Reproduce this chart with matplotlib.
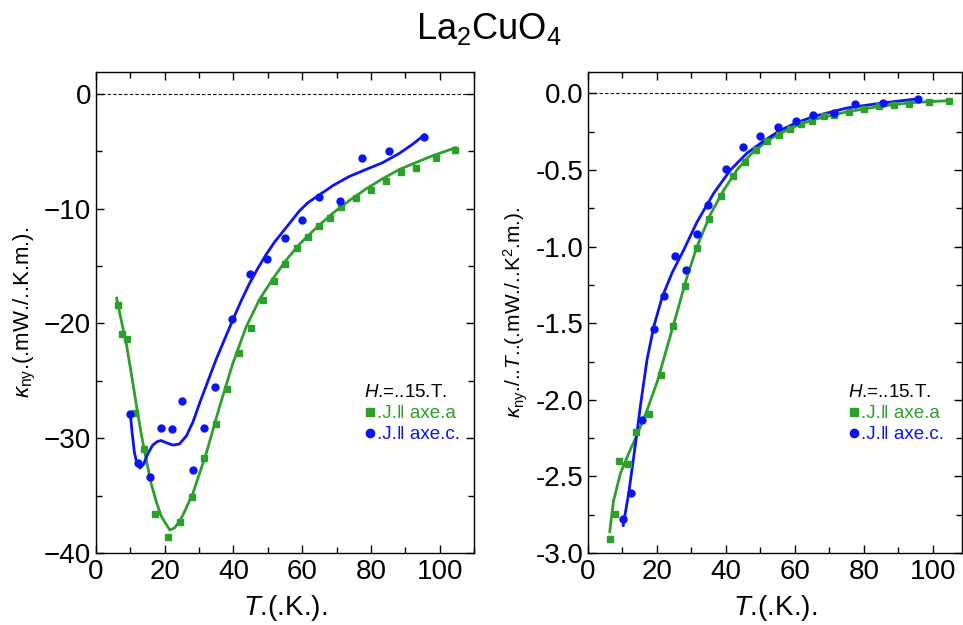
import numpy as np
import matplotlib
matplotlib.use("Agg")
import matplotlib.pyplot as plt
from matplotlib.lines import Line2D
from matplotlib.ticker import MultipleLocator

plt.rcParams['font.family'] = ['Liberation Sans', 'DejaVu Sans']
plt.rcParams['mathtext.fontset'] = 'custom'
plt.rcParams['mathtext.rm'] = 'Liberation Sans'
plt.rcParams['mathtext.it'] = 'Liberation Sans:italic'

GREEN = '#2ca02c'
BLUE = '#0a14f5'

# --- left panel: kappa_xy (mW/K m) ---
ta_pts = [6.3, 7.5, 8.9, 11.4, 13.9, 17.3, 21.0, 24.4, 27.9, 31.4, 34.8, 38.2, 41.7, 45.2,
          48.5, 51.9, 55.1, 58.5, 61.7, 64.9, 68.1, 71.3, 75.6, 79.9, 84.3, 88.7, 93.0, 98.8, 104.6]
ka_pts = [-18.4, -20.9, -21.4, -27.8, -30.9, -36.6, -38.6, -37.3, -35.1, -31.7, -28.8, -25.7,
          -22.6, -20.4, -18.0, -16.3, -14.8, -13.4, -12.5, -11.5, -10.8, -9.9, -9.1, -8.4,
          -7.6, -6.8, -6.5, -5.6, -4.9]
tc_pts = [10.0, 12.2, 15.6, 18.9, 22.1, 25.1, 28.3, 31.5, 34.5, 39.7, 44.8, 49.8, 54.9, 59.9,
          65.0, 71.0, 77.3, 85.3, 95.5]
kc_pts = [-27.9, -32.2, -33.4, -29.1, -29.2, -26.8, -32.8, -29.1, -25.5, -19.6, -15.7, -14.4,
          -12.6, -11.0, -9.0, -9.3, -5.6, -5.0, -3.8]

# fitted curves
ta_fit = [6.0, 7.4, 8.9, 10.4, 11.8, 13.2, 14.7, 16.1, 17.6, 19.0, 20.0, 21.5, 22.9, 24.1, 25.3,
          28.2, 32.1, 36.0, 39.8, 43.7, 47.6, 51.5, 55.3, 59.2, 64.0, 68.9, 73.7, 78.5,
          83.4, 88.2, 93.0, 97.9, 104.6]
ka_fit = [-17.8, -19.8, -21.9, -24.6, -27.2, -29.7, -32.0, -34.0, -35.6, -36.8, -37.3, -38.0,
          -37.8, -37.3, -36.7, -34.8, -31.3, -27.2, -23.5, -20.3, -17.9, -16.1, -14.5, -13.1,
          -11.7, -10.4, -9.3, -8.3, -7.4, -6.6, -6.0, -5.4, -4.7]
tc_fit = [10.0, 10.5, 11.2, 12.0, 12.8, 13.8, 15.0, 16.5, 17.8, 18.9, 20.5, 22.4, 24.3, 26.3,
          28.2, 30.2, 32.6, 35.0, 37.4, 39.8, 42.3, 44.7, 47.1, 49.5, 52.0, 54.4, 56.8,
          59.2, 61.6, 64.0, 66.5, 68.9, 73.7, 78.5, 83.4, 88.2, 92.1, 95.5]
kc_fit = [-27.9, -29.5, -31.3, -32.3, -32.6, -32.3, -31.4, -30.6, -30.3, -30.2, -30.4, -30.6,
          -30.5, -29.8, -28.6, -26.9, -25.0, -23.1, -21.4, -19.7, -18.0, -16.5, -15.2, -14.0,
          -12.9, -12.0, -11.1, -10.2, -9.5, -9.0, -8.5, -8.0, -7.2, -6.6, -6.0, -5.2, -4.4, -3.6]

# --- right panel: kappa_xy / T (mW/K^2 m) ---
ra_t = [6.5, 7.8, 9.1, 11.7, 13.8, 17.7, 21.1, 24.6, 28.0, 31.5, 35.0, 38.5, 42.0, 45.4, 48.8,
        52.0, 55.3, 58.7, 61.9, 65.1, 68.4, 71.5, 75.8, 80.2, 84.5, 88.8, 93.2, 98.9, 104.7]
ra_v = [-2.91, -2.745, -2.40, -2.42, -2.21, -2.09, -1.84, -1.52, -1.26, -1.01, -0.82, -0.67,
        -0.54, -0.45, -0.37, -0.31, -0.27, -0.23, -0.20, -0.18, -0.15, -0.14, -0.12, -0.10,
        -0.085, -0.076, -0.069, -0.054, -0.047]
rc_t = [10.2, 12.5, 15.8, 19.1, 22.1, 25.3, 28.5, 31.6, 34.7, 39.9, 44.9, 50.0, 55.1, 60.2,
        65.2, 71.3, 77.5, 85.5, 95.6]
rc_v = [-2.78, -2.61, -2.13, -1.54, -1.32, -1.06, -1.15, -0.92, -0.73, -0.49, -0.35, -0.28,
        -0.22, -0.18, -0.14, -0.13, -0.07, -0.06, -0.035]

ra_fit_t = [6.3, 7.4, 9.4, 11.8, 14.2, 17.1, 20.1, 22.9, 25.8, 28.7, 31.6, 35.5, 39.4, 43.2,
            47.1, 51.9, 55.8, 60.6, 65.5, 75.1, 84.8, 94.5, 104.7]
ra_fit_v = [-2.86, -2.66, -2.48, -2.35, -2.23, -2.07, -1.88, -1.66, -1.43, -1.20, -1.00, -0.79,
            -0.63, -0.50, -0.40, -0.31, -0.26, -0.21, -0.17, -0.12, -0.083, -0.059, -0.047]
rc_fit_t = [10.2, 11.8, 13.7, 15.2, 17.1, 19.1, 21.5, 24.4, 27.8, 31.6, 36.5, 41.3, 46.1, 51.0,
            55.8, 60.6, 65.5, 75.1, 84.8, 95.6]
rc_fit_v = [-2.82, -2.61, -2.30, -2.04, -1.74, -1.52, -1.33, -1.17, -1.02, -0.84, -0.65, -0.50,
            -0.39, -0.31, -0.24, -0.19, -0.15, -0.095, -0.064, -0.035]

fig = plt.figure(figsize=(9.63, 6.25), dpi=100)
ax1 = fig.add_axes([0.0997, 0.1152, 0.3925, 0.7696])
ax2 = fig.add_axes([0.6106, 0.1152, 0.3884, 0.7696])


def style_axis(ax, xmax, ylim, ymaj, ymin):
    ax.set_xlim(0, xmax)
    ax.set_ylim(*ylim)
    ax.xaxis.set_major_locator(MultipleLocator(20))
    ax.xaxis.set_minor_locator(MultipleLocator(10))
    ax.yaxis.set_major_locator(MultipleLocator(ymaj))
    ax.yaxis.set_minor_locator(MultipleLocator(ymin))
    ax.tick_params(which='both', direction='in', top=True, right=True, labelsize=20, width=1)
    ax.tick_params(which='major', length=6)
    ax.tick_params(which='minor', length=4)
    ax.tick_params(axis='x', pad=4)
    for s in ax.spines.values():
        s.set_linewidth(1.0)
    ax.axhline(0, color='black', lw=0.8, ls=(0, (3, 2)))
    ax.set_xlabel('$T$.(.K.).', fontsize=20, labelpad=6)


def add_legend(ax, xy):
    handles = [Line2D([], [], ls='none', marker='s', color=GREEN, ms=6),
               Line2D([], [], ls='none', marker='o', color=BLUE, ms=6)]
    leg = ax.legend(handles, ['.J.\u2016 axe.a', '.J.\u2016 axe.c.'],
                    title='$H$.=..15.T.', title_fontsize=13.5, fontsize=13.5,
                    frameon=False, loc='upper left', bbox_to_anchor=xy,
                    handlelength=0.6, handletextpad=0.1, labelspacing=0.2,
                    borderpad=0, alignment='left')
    for txt, c in zip(leg.get_texts(), [GREEN, BLUE]):
        txt.set_color(c)


# left panel
ax1.plot(ta_fit, ka_fit, color=GREEN, lw=2)
ax1.plot(tc_fit, kc_fit, color=BLUE, lw=2)
ax1.plot(ta_pts, ka_pts, 's', color=GREEN, ms=5)
ax1.plot(tc_pts, kc_pts, 'o', color=BLUE, ms=5)
style_axis(ax1, 110, (-40, 1.9), 10, 5)
ax1.set_ylabel('$\\kappa_{\\mathrm{ny}}$.(.mW./..K.m.).', fontsize=16, labelpad=4)
add_legend(ax1, (0.685, 0.37))

# right panel
ax2.plot(ra_fit_t, ra_fit_v, color=GREEN, lw=2)
ax2.plot(rc_fit_t, rc_fit_v, color=BLUE, lw=2)
ax2.plot(ra_t, ra_v, 's', color=GREEN, ms=5)
ax2.plot(rc_t, rc_v, 'o', color=BLUE, ms=5)
style_axis(ax2, 108.5, (-3.0, 0.14), 0.5, 0.25)
ax2.yaxis.set_major_formatter(plt.FormatStrFormatter('%.1f'))
ax2.set_ylabel('$\\kappa_{\\mathrm{ny}}$./..$T$..(.mW./..K$^2$.m.).', fontsize=15, labelpad=4)
add_legend(ax2, (0.67, 0.37))

fig.suptitle('La$_2$CuO$_4$', fontsize=26, x=0.508, y=0.982)

fig.savefig('out.png', dpi=100)
